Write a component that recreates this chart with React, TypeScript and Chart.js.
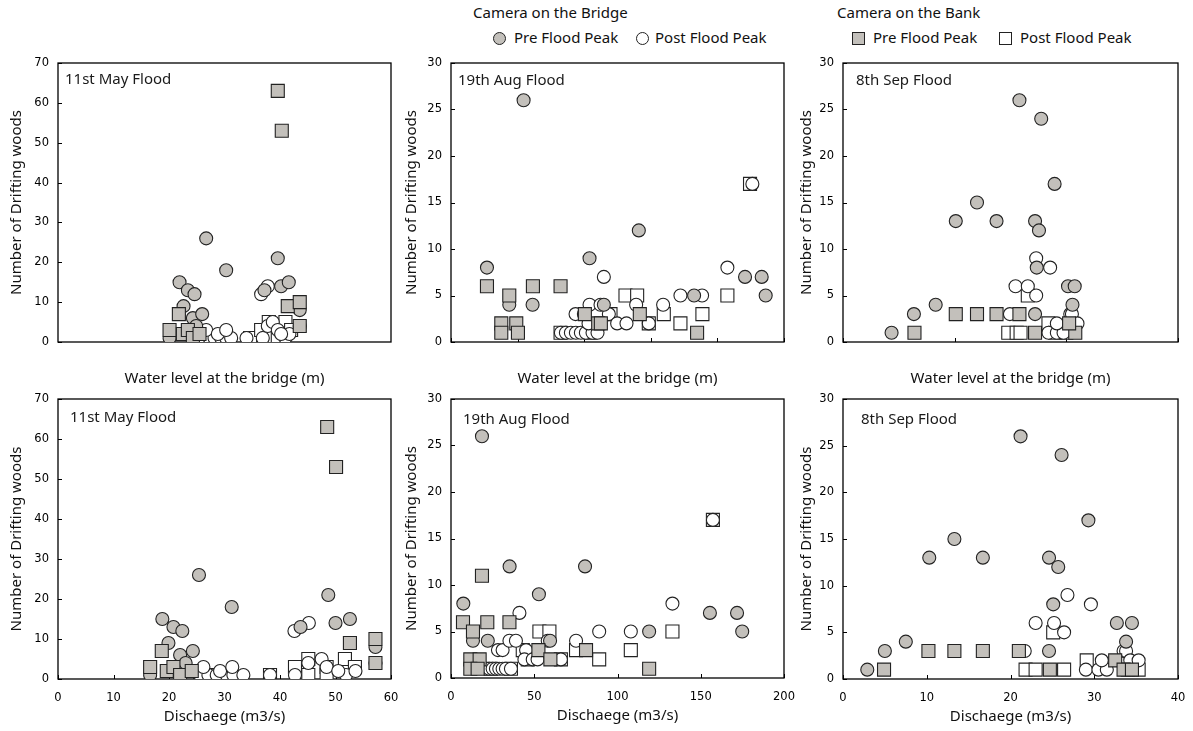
import React, { useEffect, useRef } from 'react';
import { Chart, registerables } from 'chart.js';
Chart.register(...registerables);

// ---------------- DATA ----------------
// Top row: x = water level at the bridge (relative scale), y = number of drifting woods
// Bottom row: x = discharge (m3/s), y = number of drifting woods

// 11st May Flood – water level
const mayLevelBridgePre = [[0.335,1],[0.365,15],[0.377,9],[0.39,13],[0.405,6],[0.41,12],[0.415,4],[0.433,7],[0.445,26],[0.505,18],[0.62,13],[0.66,21],[0.67,14],[0.693,15],[0.726,8],[0.726,4]];
const mayLevelBridgePost = [[0.44,1],[0.455,1],[0.47,1],[0.49,1],[0.505,1],[0.52,1],[0.566,1],[0.445,3],[0.48,2],[0.505,3],[0.61,12],[0.63,14],[0.615,1],[0.63,4],[0.645,5],[0.66,3],[0.683,1],[0.695,2],[0.67,2]];
const mayLevelBankPre = [[0.335,3],[0.363,7],[0.375,2],[0.39,3],[0.405,1],[0.425,2],[0.66,63],[0.672,53],[0.69,9],[0.726,10],[0.726,4]];
const mayLevelBankPost = [[0.44,1],[0.447,1],[0.455,1],[0.577,1],[0.61,3],[0.633,5],[0.63,1],[0.663,2],[0.66,1],[0.683,5],[0.70,3]];

// 11st May Flood – discharge
const mayQBridgePre = [[16.6,1],[18.8,15],[19.9,9],[20.8,13],[22.0,6],[22.4,12],[23.0,4],[24.3,7],[25.4,26],[31.3,18],[43.7,13],[48.7,21],[50.0,14],[52.6,15],[57.2,8],[57.2,4]];
const mayQBridgePost = [[25.6,1],[27.1,1],[28.6,1],[30.4,1],[31.6,1],[33.4,1],[38.2,1],[26.2,3],[29.2,2],[31.4,3],[42.6,12],[45.2,14],[42.7,1],[45.1,4],[47.5,5],[48.4,3],[51.9,1],[53.6,2],[50.5,2]];
const mayQBankPre = [[16.6,3],[18.7,7],[19.6,2],[20.8,3],[22.0,1],[24.1,2],[48.5,63],[50.1,53],[52.6,9],[57.2,10],[57.2,4]];
const mayQBankPost = [[25.6,1],[26.3,1],[27.0,1],[38.2,1],[42.7,3],[45.1,5],[45.1,1],[48.4,3],[48.4,1],[51.7,5],[53.5,3]];

// 19th Aug Flood – water level
const augLevelBridgePre = [[0.108,8],[0.218,26],[0.175,4],[0.245,4],[0.416,9],[0.564,12],[0.459,4],[0.73,5],[0.883,7],[0.933,7],[0.945,5]];
const augLevelBridgePost = [[0.459,7],[0.83,8],[0.689,5],[0.754,5],[0.374,3],[0.399,3],[0.416,4],[0.449,4],[0.556,4],[0.637,4],[0.474,3],[0.499,2],[0.527,2],[0.594,2],[0.905,17],[0.33,1],[0.345,1],[0.36,1],[0.375,1],[0.39,1],[0.405,1],[0.425,1],[0.44,1],[0.413,2]];
const augLevelBankPre = [[0.108,6],[0.246,6],[0.329,6],[0.175,5],[0.151,2],[0.196,2],[0.151,1],[0.201,1],[0.402,3],[0.442,2],[0.45,2],[0.567,3],[0.739,1]];
const augLevelBankPost = [[0.898,17],[0.524,5],[0.559,5],[0.639,3],[0.755,3],[0.689,2],[0.594,2],[0.83,5],[0.479,3],[0.329,1],[0.419,1]];

// 19th Aug Flood – discharge
const augQBridgePre = [[18.6,26],[7.4,8],[35.2,12],[80.5,12],[52.8,9],[13.2,4],[22.1,4],[59.5,4],[119,5],[155.5,7],[171.8,7],[174.9,5]];
const augQBridgePost = [[41.1,7],[28.2,3],[31,3],[35.1,4],[39,4],[45.1,3],[58.1,4],[75.1,4],[89,5],[108,5],[133,8],[157.3,17],[21,1],[23,1],[25,1],[27,1],[29,1],[31,1],[33,1],[36,1],[44.1,2],[49.1,2],[52,2],[66,2]];
const augQBankPre = [[18.6,11],[7.2,6],[21.8,6],[35.1,6],[13.2,5],[11.6,2],[17.2,2],[11.6,1],[16,1],[52.5,3],[59.7,2],[81.1,3],[119,1]];
const augQBankPost = [[157.3,17],[53.1,5],[59.1,5],[75.1,3],[89,2],[108,3],[133,5],[43.1,3],[46.1,2],[66,2],[24,1],[36,1]];

// 8th Sep Flood – water level
const sepLevelBridgePre = [[0.087,1],[0.127,3],[0.166,4],[0.202,13],[0.24,15],[0.275,13],[0.316,26],[0.355,24],[0.379,17],[0.344,13],[0.351,12],[0.347,8],[0.344,3],[0.403,6],[0.415,6],[0.411,4]];
const sepLevelBridgePost = [[0.299,3],[0.309,6],[0.331,6],[0.346,5],[0.346,9],[0.371,8],[0.407,3],[0.416,2],[0.368,1],[0.383,1],[0.395,1],[0.383,2],[0.41,3],[0.42,2]];
const sepLevelBankPre = [[0.128,1],[0.202,3],[0.24,3],[0.275,3],[0.316,3],[0.344,1],[0.416,1],[0.405,2]];
const sepLevelBankPost = [[0.331,5],[0.296,1],[0.311,1],[0.318,1],[0.368,2],[0.38,1],[0.40,1]];

// 8th Sep Flood – discharge
const sepQBridgePre = [[2.9,1],[5.0,3],[7.5,4],[10.3,13],[13.3,15],[16.7,13],[21.2,26],[26.1,24],[29.3,17],[24.6,13],[25.7,12],[25.1,8],[24.6,3],[32.7,6],[34.5,6],[33.8,4]];
const sepQBridgePost = [[23.0,6],[25.2,6],[26.4,5],[26.8,9],[29.6,8],[21.7,3],[29.0,1],[30.5,1],[31.5,1],[30.9,2],[33.5,3],[33.8,3],[34.3,2],[35.3,2]];
const sepQBankPre = [[4.9,1],[10.2,3],[13.3,3],[16.7,3],[21.0,3],[24.7,1],[32.5,2],[33.5,1],[34.5,1]];
const sepQBankPost = [[25.1,5],[21.8,1],[23.0,1],[26.4,1],[29.1,2],[34.0,1],[35.3,1]];

const floodLabels = ['11st May Flood', '19th Aug Flood', '8th Sep Flood'];
const seriesNames = ['Pre Flood Peak', 'Post Flood Peak'];
const cameraNames = ['Camera on the Bridge', 'Camera on the Bank'];
const yTitle = 'Number of Drifting woods';
const levelTitle = 'Water level at the bridge (m)';
const dischargeTitle = 'Dischaege (m3/s)';

// ---------------- STYLE ----------------
const GRAY = '#c3c0bb';
const EDGE = '#222';
const TEXT_FONT = '"Noto Sans", sans-serif';
const TEXT_SIZE = 15;
const TICK_FONT = '"DejaVu Sans", sans-serif';
const TICK_SIZE = 11.5;
const Y_W = 56;
const X_H = 50;
const PAD_T = 17;
const PAD_R = 24;
const HALF_LH = TEXT_SIZE * 1.2 / 2;

type Spec = {
  left: number; top: number; w: number; h: number;
  label: string; lx: number; ly: number;
  xMin: number; xMax: number; xStep: number; xLabels: boolean; xTickMarks: boolean;
  yMax: number; yStep: number;
  xTitle: string; xTitleBelow: number; yTitleLeft: number;
  bridgePre: number[][]; bridgePost: number[][]; bankPre: number[][]; bankPost: number[][];
};

const panels: Spec[] = [
  { left: 58, top: 63, w: 333, h: 279, label: floodLabels[0], lx: 7, ly: 17, xMin: 0, xMax: 1, xStep: 0.2, xLabels: false, xTickMarks: false, yMax: 70, yStep: 10, xTitle: levelTitle, xTitleBelow: 36.5, yTitleLeft: 41,
    bridgePre: mayLevelBridgePre, bridgePost: mayLevelBridgePost, bankPre: mayLevelBankPre, bankPost: mayLevelBankPost },
  { left: 451, top: 63, w: 333, h: 279, label: floodLabels[1], lx: 7, ly: 18, xMin: 0, xMax: 1, xStep: 0.2, xLabels: false, xTickMarks: true, yMax: 30, yStep: 5, xTitle: levelTitle, xTitleBelow: 36.5, yTitleLeft: 39,
    bridgePre: augLevelBridgePre, bridgePost: augLevelBridgePost, bankPre: augLevelBankPre, bankPost: augLevelBankPost },
  { left: 843, top: 63, w: 335, h: 279, label: floodLabels[2], lx: 13, ly: 18, xMin: 0, xMax: 0.6, xStep: 0.2, xLabels: false, xTickMarks: true, yMax: 30, yStep: 5, xTitle: levelTitle, xTitleBelow: 36.5, yTitleLeft: 36,
    bridgePre: sepLevelBridgePre, bridgePost: sepLevelBridgePost, bankPre: sepLevelBankPre, bankPost: sepLevelBankPost },
  { left: 58, top: 399, w: 333, h: 280, label: floodLabels[0], lx: 12, ly: 19, xMin: 0, xMax: 60, xStep: 10, xLabels: true, xTickMarks: true, yMax: 70, yStep: 10, xTitle: dischargeTitle, xTitleBelow: 38, yTitleLeft: 41,
    bridgePre: mayQBridgePre, bridgePost: mayQBridgePost, bankPre: mayQBankPre, bankPost: mayQBankPost },
  { left: 451, top: 399, w: 333, h: 279, label: floodLabels[1], lx: 12, ly: 21, xMin: 0, xMax: 200, xStep: 50, xLabels: true, xTickMarks: true, yMax: 30, yStep: 5, xTitle: dischargeTitle, xTitleBelow: 38, yTitleLeft: 39,
    bridgePre: augQBridgePre, bridgePost: augQBridgePost, bankPre: augQBankPre, bankPost: augQBankPost },
  { left: 843, top: 399, w: 335, h: 280, label: floodLabels[2], lx: 18, ly: 21, xMin: 0, xMax: 40, xStep: 10, xLabels: true, xTickMarks: true, yMax: 30, yStep: 5, xTitle: dischargeTitle, xTitleBelow: 38, yTitleLeft: 36,
    bridgePre: sepQBridgePre, bridgePost: sepQBridgePost, bankPre: sepQBankPre, bankPost: sepQBankPost },
];

const framePlugin = {
  id: 'frame',
  beforeDatasetsDraw(chart: any, _args: any, opts: any) {
    const { ctx, chartArea: a } = chart;
    ctx.save();
    ctx.strokeStyle = '#000';
    ctx.lineWidth = 1.3;
    ctx.strokeRect(a.left, a.top, a.width, a.height);
    ctx.lineWidth = 1;
    const xs = chart.scales.x;
    const ys = chart.scales.y;
    if (opts.xTickMarks) {
      xs.ticks.forEach((t: any) => {
        const px = Math.round(xs.getPixelForValue(t.value)) + 0.5;
        ctx.beginPath(); ctx.moveTo(px, a.bottom); ctx.lineTo(px, a.bottom - 4); ctx.stroke();
      });
    }
    ys.ticks.forEach((t: any) => {
      const py = Math.round(ys.getPixelForValue(t.value)) + 0.5;
      ctx.beginPath(); ctx.moveTo(a.left, py); ctx.lineTo(a.left + 4, py); ctx.stroke();
    });
    ctx.restore();
  },
  afterDraw(chart: any, _args: any, opts: any) {
    const { ctx, chartArea: a } = chart;
    ctx.save();
    ctx.font = `${TEXT_SIZE}px ${TEXT_FONT}`;
    ctx.fillStyle = '#1a1a1a';
    ctx.textBaseline = 'middle';
    ctx.textAlign = 'left';
    ctx.fillText(opts.label, a.left + opts.lx, a.top + opts.ly);
    ctx.restore();
  },
};

function dataset(label: string, pts: number[][], style: string, fill: string) {
  return {
    label,
    data: pts.map(([x, y]) => ({ x, y })),
    pointStyle: style,
    pointRadius: style === 'rect' ? 9.2 : 6.5,
    backgroundColor: fill,
    borderColor: EDGE,
    borderWidth: 1.1,
    showLine: false,
  };
}

function Panel({ spec }: { spec: Spec }) {
  const ref = useRef<HTMLCanvasElement>(null);
  const cw = Y_W + spec.w + PAD_R;
  const ch = PAD_T + spec.h + X_H;
  useEffect(() => {
    const chart = new Chart(ref.current as HTMLCanvasElement, {
      type: 'scatter',
      data: {
        datasets: [
          dataset(`${cameraNames[1]} ${seriesNames[0]}`, spec.bankPre, 'rect', GRAY),
          dataset(`${cameraNames[0]} ${seriesNames[0]}`, spec.bridgePre, 'circle', GRAY),
          dataset(`${cameraNames[0]} ${seriesNames[1]}`, spec.bridgePost, 'circle', '#ffffff'),
          dataset(`${cameraNames[1]} ${seriesNames[1]}`, spec.bankPost, 'rect', '#ffffff'),
        ] as any,
      },
      options: {
        responsive: false,
        animation: false,
        events: [],
        layout: { padding: { top: PAD_T, right: PAD_R, left: 0, bottom: 0 } },
        plugins: {
          legend: { display: false },
          tooltip: { enabled: false },
          frame: { label: spec.label, lx: spec.lx, ly: spec.ly, xTickMarks: spec.xTickMarks },
        } as any,
        scales: {
          x: {
            type: 'linear',
            min: spec.xMin,
            max: spec.xMax,
            ticks: { stepSize: spec.xStep, display: spec.xLabels, padding: 12, color: '#000', maxRotation: 0, autoSkip: false, font: { family: TICK_FONT, size: TICK_SIZE } },
            grid: { display: false, drawTicks: false },
            border: { display: false },
            title: { display: true, text: spec.xTitle, color: '#111', font: { family: TEXT_FONT, size: TEXT_SIZE }, padding: { top: 0, bottom: X_H - spec.xTitleBelow - HALF_LH } },
            afterFit: (s: any) => { s.height = X_H; },
          },
          y: {
            type: 'linear',
            min: 0,
            max: spec.yMax,
            ticks: { stepSize: spec.yStep, padding: 9, color: '#000', font: { family: TICK_FONT, size: TICK_SIZE } },
            grid: { display: false, drawTicks: false },
            border: { display: false },
            title: { display: true, text: yTitle, color: '#111', font: { family: TEXT_FONT, size: TEXT_SIZE }, padding: { top: Y_W - spec.yTitleLeft - HALF_LH, bottom: 0 } },
            afterFit: (s: any) => { s.width = Y_W; },
          },
        } as any,
      },
      plugins: [framePlugin as any],
    });
    return () => chart.destroy();
  }, []);
  return (
    <div style={{ position: 'absolute', left: spec.left - Y_W, top: spec.top - PAD_T, width: cw, height: ch }}>
      <canvas ref={ref} width={cw} height={ch} style={{ display: 'block' }} />
    </div>
  );
}

const textStyle: React.CSSProperties = {
  position: 'absolute', height: 20, lineHeight: '20px', font: `${TEXT_SIZE}px ${TEXT_FONT}`, color: '#111', whiteSpace: 'nowrap',
};

function Txt({ s, left, cy }: { s: string; left: number; cy: number }) {
  return <div style={{ ...textStyle, left, top: cy - 10 }}>{s}</div>;
}

function Marker({ cx, cy, round, fill }: { cx: number; cy: number; round: boolean; fill: string }) {
  const size = 13;
  return (
    <div style={{
      position: 'absolute', left: cx - size / 2, top: cy - size / 2, width: size, height: size,
      boxSizing: 'border-box', borderRadius: round ? '50%' : 0,
      border: `${fill === '#ffffff' ? 1.8 : 1.2}px solid ${EDGE}`, background: fill,
    }} />
  );
}

export default function App() {
  return (
    <div style={{ position: 'fixed', left: 0, top: 0, width: 1193, height: 731, overflow: 'hidden', background: '#fff' }}>
      <Txt s={cameraNames[0]} left={473} cy={12} />
      <Marker cx={499} cy={38} round fill={GRAY} />
      <Txt s={seriesNames[0]} left={514} cy={37} />
      <Marker cx={642} cy={38} round fill="#ffffff" />
      <Txt s={seriesNames[1]} left={655} cy={37} />
      <Txt s={cameraNames[1]} left={837} cy={12} />
      <Marker cx={858} cy={38} round={false} fill={GRAY} />
      <Txt s={seriesNames[0]} left={873} cy={37} />
      <Marker cx={1005} cy={38} round={false} fill="#ffffff" />
      <Txt s={seriesNames[1]} left={1020} cy={37} />
      {panels.map((p, i) => <Panel key={i} spec={p} />)}
    </div>
  );
}
